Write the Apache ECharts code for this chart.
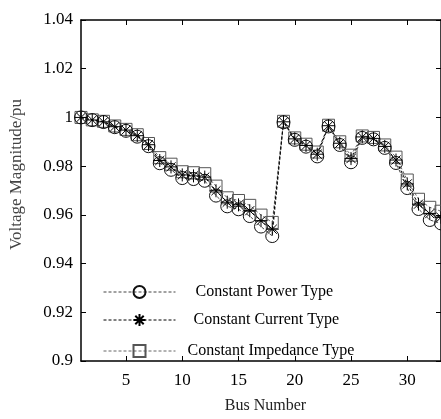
<!DOCTYPE html>
<html><head><meta charset="utf-8">
<script src="https://cdn.jsdelivr.net/npm/echarts@6/dist/echarts.min.js"></script>
<style>html,body{margin:0;padding:0;background:#fff}#c{width:441px;height:419px}</style>
</head><body><div id="c"></div>
<script>
const busNumbers = [1,2,3,4,5,6,7,8,9,10,11,12,13,14,15,16,17,18,19,20,21,22,23,24,25,26,27,28,29,30,31,32,33];
const constantPower = [1.0000,0.9989,0.9981,0.9960,0.9945,0.9921,0.9882,0.9812,0.9785,0.9751,0.9747,0.9740,0.9679,0.9635,0.9623,0.9595,0.9552,0.9513,0.9980,0.9908,0.9880,0.9840,0.9963,0.9887,0.9816,0.9916,0.9910,0.9875,0.9813,0.9710,0.9624,0.9579,0.9565];
const constantCurrent = [1.0000,0.99895,0.9982,0.9962,0.9948,0.9925,0.9888,0.9823,0.9797,0.9764,0.9760,0.9755,0.9699,0.9652,0.9641,0.9617,0.9576,0.9541,0.9982,0.9912,0.9885,0.9849,0.9966,0.9894,0.9831,0.9920,0.9914,0.9881,0.9825,0.9727,0.9644,0.9605,0.9590];
const constantImpedance = [1.0000,0.9990,0.9984,0.9965,0.9951,0.9929,0.9893,0.9835,0.9808,0.9777,0.9773,0.9769,0.9718,0.9670,0.9659,0.9639,0.9599,0.9569,0.9984,0.9916,0.9890,0.9858,0.9968,0.9900,0.9845,0.9924,0.9918,0.9887,0.9837,0.9743,0.9664,0.9631,0.9615];
const xTicks = [5,10,15,20,25,30];
const yTicks = [0.9,0.92,0.94,0.96,0.98,1,1.02,1.04];
const seriesNames = ['Constant Power Type','Constant Current Type','Constant Impedance Type'];

const FONT = '"Liberation Serif","Times New Roman",serif';
const STAR = 'path://M0,-10L0,10M-10,0L10,0M-7,-7L7,7M-7,7L7,-7';
const pairs = arr => busNumbers.map((b,i)=>[b,arr[i]]);

const chart = echarts.init(document.getElementById('c'), null, {renderer:'canvas'});
const axisLine = {show:true, lineStyle:{color:'#000', width:1.5}};
const legendBase = (name, top, left, padLeft) => ({
  data:[name], orient:'vertical', left:left, top:top, padding:0,
  itemWidth:72, itemHeight:15, selectedMode:false,
  lineStyle:{width:1},
  textStyle:{fontFamily:FONT, fontSize:16, color:'#000', padding:[0,0,0,padLeft]}
});
chart.setOption({
  animation:false,
  backgroundColor:'#fff',
  grid:{left:76, top:20, right:-2, bottom:44},
  xAxis:[{
    type:'value', min:1, max:33, position:'bottom',
    axisLine:axisLine,
    axisTick:{show:true, inside:true, length:5, customValues:xTicks, lineStyle:{color:'#000', width:1}},
    axisLabel:{show:true, customValues:xTicks, margin:11, fontFamily:FONT, fontSize:17, color:'#000'},
    splitLine:{show:false},
    name:'Bus Number', nameLocation:'middle', nameGap:37,
    nameTextStyle:{fontFamily:FONT, fontSize:16, color:'#222', padding:[0,0,0,9]}
  },{
    type:'value', min:1, max:33, position:'top',
    axisLine:axisLine,
    axisTick:{show:true, inside:true, length:5, customValues:xTicks, lineStyle:{color:'#000', width:1}},
    axisLabel:{show:false}, splitLine:{show:false}
  }],
  yAxis:[{
    type:'value', min:0.9, max:1.04, position:'left',
    axisLine:axisLine,
    axisTick:{show:true, inside:true, length:5, customValues:yTicks, lineStyle:{color:'#000', width:1}},
    axisLabel:{show:true, customValues:yTicks, margin:8, fontFamily:FONT, fontSize:17, color:'#000',
      formatter: v => String(Number(v.toFixed(2)))},
    splitLine:{show:false},
    name:'Voltage Magnitude/pu', nameLocation:'middle', nameGap:56, nameRotate:90,
    nameTextStyle:{fontFamily:FONT, fontSize:17, color:'#444', padding:[0,0,0,32]}
  },{
    type:'value', min:0.9, max:1.04, position:'right',
    axisLine:axisLine,
    axisTick:{show:true, inside:true, length:5, customValues:yTicks, lineStyle:{color:'#000', width:1}},
    axisLabel:{show:false}, splitLine:{show:false}
  }],
  legend:[
    legendBase(seriesNames[0], 284, 103, 15),
    legendBase(seriesNames[1], 312, 103, 13),
    legendBase(seriesNames[2], 343, 103, 7)
  ],
  series:[
    {
      name:seriesNames[2], type:'line', data:pairs(constantImpedance),
      symbol:'rect', symbolSize:12,
      itemStyle:{color:'rgba(0,0,0,0)', borderColor:'#555', borderWidth:1},
      lineStyle:{color:'#666', width:1, type:[3,2]}
    },
    {
      name:seriesNames[0], type:'line', data:pairs(constantPower),
      symbol:'circle', symbolSize:13,
      itemStyle:{color:'rgba(0,0,0,0)', borderColor:'#111', borderWidth:1},
      lineStyle:{color:'#444', width:1, type:[3,2]}
    },
    {
      name:seriesNames[1], type:'line', data:pairs(constantCurrent),
      symbol:STAR, symbolSize:13,
      itemStyle:{color:'rgba(0,0,0,0)', borderColor:'#000', borderWidth:1},
      lineStyle:{color:'#000', width:1, type:[3,2]}
    }
  ]
});
</script></body></html>
